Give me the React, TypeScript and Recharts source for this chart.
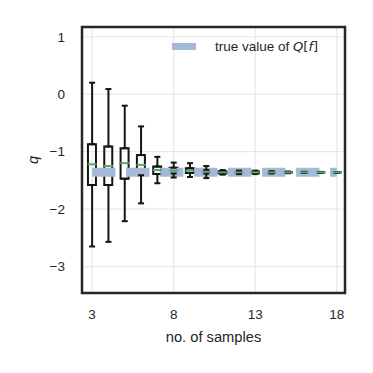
import React from 'react';
import {
  ComposedChart, XAxis, YAxis, CartesianGrid, Bar, Scatter, ErrorBar, Line,
  ReferenceArea, Legend, Label,
} from 'recharts';

const xs = [3, 4, 5, 6, 7, 8, 9, 10, 11, 12, 13, 14, 15, 16, 17, 18];
const whiskerLow = [-2.65, -2.57, -2.21, -1.90, -1.55, -1.45, -1.44, -1.46, -1.40, -1.39, -1.39, -1.38, -1.375, -1.37, -1.37, -1.37];
const q1 = [-1.58, -1.58, -1.47, -1.41, -1.39, -1.38, -1.37, -1.38, -1.38, -1.375, -1.375, -1.368, -1.365, -1.364, -1.363, -1.362];
const median = [-1.22, -1.25, -1.20, -1.23, -1.32, -1.33, -1.33, -1.35, -1.36, -1.36, -1.36, -1.36, -1.36, -1.36, -1.36, -1.36];
const q3 = [-0.87, -0.91, -0.94, -1.06, -1.26, -1.28, -1.29, -1.32, -1.34, -1.345, -1.345, -1.352, -1.355, -1.356, -1.357, -1.358];
const whiskerHigh = [0.20, 0.09, -0.20, -0.56, -1.09, -1.19, -1.20, -1.25, -1.32, -1.33, -1.33, -1.34, -1.345, -1.35, -1.352, -1.355];

const trueX = [3, 18];
const trueValue = -1.36;

const xTicks = [3, 8, 13, 18];
const yTicks = [-3, -2, -1, 0, 1];

const boxData = xs.map((x, i) => ({
  x,
  q1: q1[i],
  q3: q3[i],
  median: median[i],
  box: [q1[i], q3[i]],
  upErr: [0, whiskerHigh[i] - q3[i]],
  lowErr: [q1[i] - whiskerLow[i], 0],
}));

const bandData = trueX.map((x) => ({ x, y: trueValue }));

const FONT = '"Liberation Sans", Arial, sans-serif';
const TEXT = '#262626';
const BAND = '#a5b8d8';
const GREEN = '#55a868';
const BOXC = '#141414';

const minusFmt = (v: number) => String(v).replace('-', '\u2212');

const Empty = () => <g />;

const MedianShape = (props: any) => {
  const { cx, cy } = props;
  return <line x1={cx - 4.5} x2={cx + 4.5} y1={cy} y2={cy} stroke={GREEN} strokeWidth={2} />;
};

const LegendContent = () => (
  <div style={{ display: 'flex', alignItems: 'center', fontFamily: FONT, fontSize: 13.5, color: TEXT, whiteSpace: 'nowrap' }}>
    <span style={{ display: 'inline-block', width: 24, height: 6.5, background: BAND, marginRight: 19 }} />
    <span>
      true value of{' '}
      <span style={{ fontFamily: '"DejaVu Sans", sans-serif', fontSize: 13 }}>
        <i>Q</i>[<i>f</i>]
      </span>
    </span>
  </div>
);

export default function App() {
  return (
    <div style={{ position: 'absolute', left: 0, top: 0, width: 373, height: 373, background: '#fff' }}>
      <ComposedChart
        width={373}
        height={373}
        data={boxData}
        margin={{ top: 27, right: 28, bottom: 0, left: 0 }}
      >
        <CartesianGrid stroke="#e8e8e8" strokeWidth={1.2} vertical horizontal />
        <XAxis
          dataKey="x"
          type="number"
          domain={[2.38, 18.5]}
          ticks={xTicks}
          allowDataOverflow
          height={80}
          axisLine={false}
          tickLine={false}
          tickSize={0}
          tickMargin={16}
          tick={{ fill: TEXT, fontSize: 13.5, fontFamily: FONT }}
          interval={0}
        >
          <Label value="no. of samples" position="insideTop" offset={39} fill={TEXT} fontSize={14.7} fontFamily={FONT} />
        </XAxis>
        <YAxis
          type="number"
          domain={[-3.46, 1.17]}
          ticks={yTicks}
          allowDataOverflow
          width={82}
          axisLine={false}
          tickLine={false}
          tickSize={0}
          tickMargin={17}
          tickFormatter={minusFmt}
          tick={{ fill: TEXT, fontSize: 13.5, fontFamily: FONT }}
          interval={0}
        >
          <Label value="q" angle={-90} position="center" dx={-8} fill={TEXT} fontSize={14.7} fontFamily={FONT} fontStyle="italic" />
        </YAxis>
        <Line
          data={bandData}
          dataKey="y"
          stroke={BAND}
          strokeWidth={9}
          strokeDasharray="23.3 10.7"
          strokeLinecap="butt"
          dot={false}
          activeDot={false}
          isAnimationActive={false}
          legendType="none"
        />
        <Bar
          dataKey="box"
          barSize={8}
          fill="none"
          stroke={BOXC}
          strokeWidth={2}
          isAnimationActive={false}
          legendType="none"
        />
        <Scatter dataKey="q3" shape={Empty} isAnimationActive={false} legendType="none">
          <ErrorBar dataKey="upErr" direction="y" width={3} stroke={BOXC} strokeWidth={2} isAnimationActive={false} />
        </Scatter>
        <Scatter dataKey="q1" shape={Empty} isAnimationActive={false} legendType="none">
          <ErrorBar dataKey="lowErr" direction="y" width={3} stroke={BOXC} strokeWidth={2} isAnimationActive={false} />
        </Scatter>
        <Scatter dataKey="median" shape={MedianShape} isAnimationActive={false} legendType="none" />
        <ReferenceArea x1={2.38} x2={18.5} y1={-3.46} y2={1.17} fill="none" stroke="#262626" strokeWidth={2.5} ifOverflow="visible" />
        <Legend
          layout="horizontal"
          verticalAlign="middle"
          align="center"
          content={LegendContent}
          wrapperStyle={{ top: 39, left: 172, width: 'auto', height: 'auto' }}
        />
      </ComposedChart>
    </div>
  );
}
